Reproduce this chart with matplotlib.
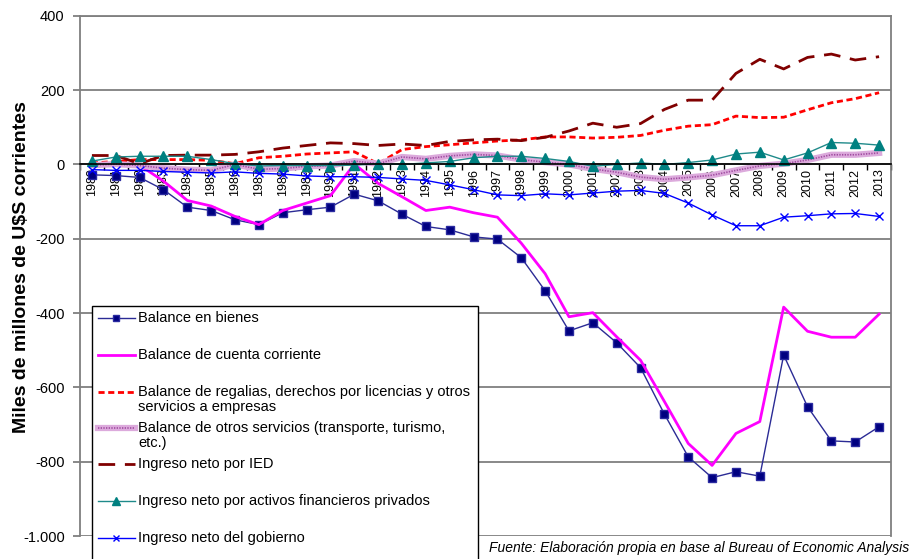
import numpy as np
import matplotlib
matplotlib.use('Agg')
import matplotlib.pyplot as plt
from matplotlib.lines import Line2D
from matplotlib.patches import Rectangle
from matplotlib.ticker import FuncFormatter

plt.rcParams['font.family'] = ['Liberation Sans', 'DejaVu Sans']

W, H = 911, 559

years = list(range(1980, 2014))

bienes = [-28, -30, -35, -68, -115, -124, -149, -162, -130, -122, -115, -80, -98,
          -134, -167, -176, -195, -201, -251, -340, -448, -426, -480, -547, -672,
          -787, -843, -827, -839, -513, -652, -744, -747, -706]
cuenta_corriente = [2, 1, -2, -45, -97, -112, -140, -162, -124, -104, -84, 1, -51,
                    -87, -124, -115, -130, -142, -212, -294, -410, -399, -464, -527,
                    -638, -751, -810, -724, -692, -384, -449, -465, -465, -403]
regalias = [4, 8, 13, 13, 13, 11, 2, 18, 22, 28, 31, 34, 2, 40, 48, 53, 58, 63, 66,
            74, 74, 71, 73, 78, 92, 103, 107, 130, 126, 127, 147, 166, 177, 193]
otros_servicios = [-2, 1, -3, -10, -14, -16, 0, -13, -11, -5, -3, 9, 2, 20, 15, 23,
                   27, 24, 13, 6, 0, -12, -21, -34, -40, -35, -29, -16, -4, 2, 12,
                   26, 26, 31]
ied = [24, 24, 2, 24, 25, 25, 27, 34, 44, 51, 58, 56, 51, 55, 51, 62, 66, 68, 64,
       73, 90, 111, 100, 110, 148, 173, 173, 245, 283, 257, 288, 297, 281, 290]
activos_privados = [9, 20, 22, 22, 22, 13, 2, -4, -3, -3, -3, -2, 2, 0, 4, 8, 18,
                    22, 22, 16, 8, -5, 0, 4, 0, 5, 12, 28, 33, 12, 31, 59, 57, 52]
gobierno = [-14, -16, -16, -19, -21, -23, -20, -24, -26, -31, -33, -33, -35, -39,
            -43, -55, -68, -82, -84, -79, -82, -77, -72, -70, -78, -104, -136, -165,
            -165, -142, -138, -133, -132, -140]

etiquetas = [
    ['Balance en bienes'],
    ['Balance de cuenta corriente'],
    ['Balance de regalias, derechos por licencias y otros', 'servicios a empresas'],
    ['Balance de otros servicios (transporte, turismo,', 'etc.)'],
    ['Ingreso neto por IED'],
    ['Ingreso neto por activos financieros privados'],
    ['Ingreso neto del gobierno'],
]

# estilos de cada serie (una lista de capas por serie)
estilos = [
    [dict(color='#2b2b95', lw=1.0, marker='s', ms=6, mfc='#000080', mec='#2a2aa0')],
    [dict(color='#ff00ff', lw=2.0)],
    [dict(color='#ff0000', lw=2.0, dashes=(2.2, 1.3))],
    [dict(color='#dcaadc', lw=4.5), dict(color='#a04ca0', lw=1.2, dashes=(0.8, 0.8))],
    [dict(color='#800000', lw=2.0, dashes=(6, 3.5))],
    [dict(color='#1f8a8a', lw=1.0, marker='^', ms=6.5, mfc='#008080', mec='#008080')],
    [dict(color='#0000ff', lw=1.0, marker='x', ms=6, mew=1.0)],
]
series = [bienes, cuenta_corriente, regalias, otros_servicios, ied,
          activos_privados, gobierno]


def fx(px):
    return px / W


def fy(py):
    return 1 - py / H


fig = plt.figure(figsize=(W / 100, H / 100), dpi=100)
ax = fig.add_axes([fx(80), fy(536), fx(891) - fx(80), fy(15.8) - fy(536)])

x = np.arange(len(years))
for vals, capas in zip(series, estilos):
    for c in capas:
        ax.plot(x, vals, **c)

ax.set_xlim(-0.5, len(years) - 0.5)
ax.set_ylim(-1000, 400)
ax.set_yticks(np.arange(-1000, 401, 200))
ax.yaxis.set_major_formatter(FuncFormatter(lambda v, p: f'{int(v):,}'.replace(',', '.')))
ax.yaxis.grid(True, color='#7f7f7f', lw=1.3)
ax.tick_params(axis='y', labelsize=10.5, length=5, color='#7f7f7f', width=1.3, pad=6)

# eje de categorias sobre la linea de cero
ax.spines['bottom'].set_position(('data', 0))
ax.spines['bottom'].set_color('black')
ax.spines['bottom'].set_linewidth(1.2)
for s in ['left', 'top', 'right']:
    ax.spines[s].set_color('#7f7f7f')
    ax.spines[s].set_linewidth(1.3)
ax.set_xticks(x)
ax.set_xticklabels([str(a) for a in years], rotation=90, fontsize=9)
ax.set_xticks(np.arange(-0.5, len(years)), minor=True)
ax.tick_params(axis='x', which='major', length=0, pad=3)
ax.tick_params(axis='x', which='minor', length=4, color='black', width=1)

fig.text(fx(21.5), fy(267), 'Miles de millones de U$S corrientes', rotation=90,
         ha='center', va='center', fontsize=14, fontweight='bold')

# leyenda dibujada a mano para alinear cada entrada con su primera linea
fig.add_artist(Rectangle((fx(92), fy(580)), fx(478) - fx(92), fy(306) - fy(580),
                         transform=fig.transFigure, facecolor='white',
                         edgecolor='black', lw=1, zorder=5))
pos_y = [318, 355, 392, 428, 464, 501, 538]
for lineas, capas, py in zip(etiquetas, estilos, pos_y):
    for c in capas:
        c2 = {k: v for k, v in c.items() if k not in ('marker', 'ms', 'mfc', 'mec', 'mew')}
        fig.add_artist(Line2D([fx(98), fx(135)], [fy(py), fy(py)],
                              transform=fig.transFigure, zorder=6, **c2))
        if 'marker' in c:
            fig.add_artist(Line2D([fx(116.5)], [fy(py)], transform=fig.transFigure,
                                  zorder=7, ls='none', marker=c['marker'], ms=c['ms'] - 1,
                                  mfc=c.get('mfc', c['color']),
                                  mec=c.get('mec', c['color']), mew=c.get('mew', 1)))
    for k, t in enumerate(lineas):
        fig.text(fx(138), fy(py + 15 * k), t, ha='left', va='center', fontsize=10.5,
                 zorder=8)

fig.text(fx(909), fy(548), 'Fuente: Elaboración propia en base al Bureau of Economic Analysis',
         ha='right', va='center', fontsize=10, style='italic')

fig.savefig('out.png', dpi=100)
